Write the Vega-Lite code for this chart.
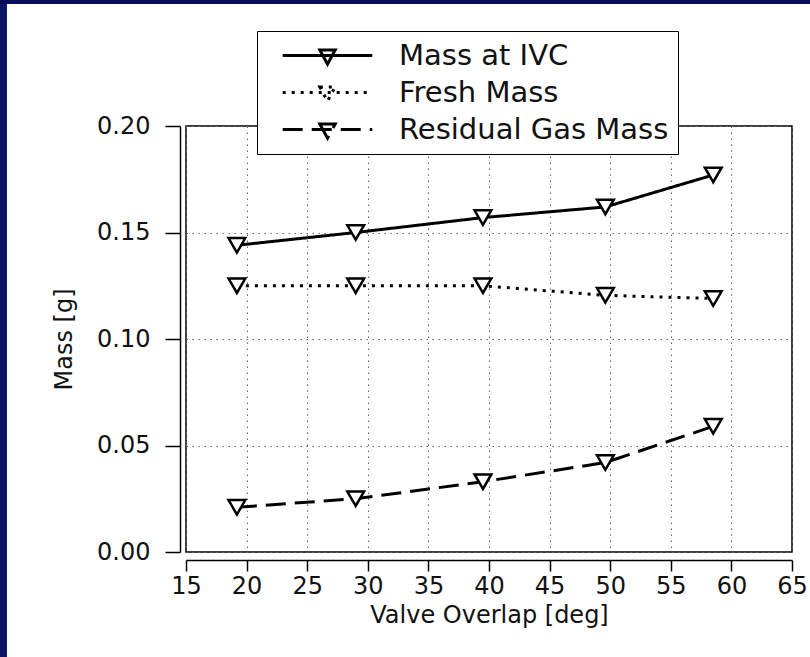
{
  "$schema": "https://vega.github.io/schema/vega-lite/v6.json",
  "width": 606,
  "height": 426,
  "autosize": "none",
  "padding": {"left": 186, "top": 126, "right": 18, "bottom": 105},
  "background": "white",
  "config": {
    "font": "DejaVu Sans",
    "view": {"stroke": "black", "strokeWidth": 1.5},
    "axis": {
      "domainColor": "black",
      "domainWidth": 1.5,
      "tickColor": "black",
      "tickWidth": 1.5,
      "labelFlush": false,
      "labelFont": "DejaVu Sans",
      "labelFontSize": 24,
      "labelColor": "#111",
      "titleFont": "DejaVu Sans",
      "titleFontSize": 24,
      "titleFontWeight": "normal",
      "titleColor": "#111",
      "gridColor": "#666",
      "gridDash": [1.5, 4.5],
      "gridWidth": 1
    }
  },
  "datasets": {
    "masses": [
      {"overlap": 19.2, "mass": 0.144, "series": "Mass at IVC"},
      {"overlap": 29.0, "mass": 0.150, "series": "Mass at IVC"},
      {"overlap": 39.5, "mass": 0.157, "series": "Mass at IVC"},
      {"overlap": 49.6, "mass": 0.162, "series": "Mass at IVC"},
      {"overlap": 58.5, "mass": 0.177, "series": "Mass at IVC"},
      {"overlap": 19.2, "mass": 0.125, "series": "Fresh Mass"},
      {"overlap": 29.0, "mass": 0.125, "series": "Fresh Mass"},
      {"overlap": 39.5, "mass": 0.125, "series": "Fresh Mass"},
      {"overlap": 49.6, "mass": 0.1205, "series": "Fresh Mass"},
      {"overlap": 58.5, "mass": 0.119, "series": "Fresh Mass"},
      {"overlap": 19.2, "mass": 0.021, "series": "Residual Gas Mass"},
      {"overlap": 29.0, "mass": 0.025, "series": "Residual Gas Mass"},
      {"overlap": 39.5, "mass": 0.033, "series": "Residual Gas Mass"},
      {"overlap": 49.6, "mass": 0.042, "series": "Residual Gas Mass"},
      {"overlap": 58.5, "mass": 0.059, "series": "Residual Gas Mass"}
    ],
    "edge": [{"name": "edge"}]
  },
  "layer": [
    {
      "data": {"name": "edge"},
      "mark": {"type": "rect", "fill": "#0b1565", "clip": false},
      "encoding": {
        "x": {"datum": -10},
        "x2": {"datum": 0.23},
        "y": {"datum": -0.1},
        "y2": {"datum": 0.35}
      }
    },
    {
      "data": {"name": "edge"},
      "mark": {"type": "rect", "fill": "#070c5a", "clip": false},
      "encoding": {
        "x": {"datum": -10},
        "x2": {"datum": 70},
        "y": {"datum": 0.2573},
        "y2": {"datum": 0.35}
      }
    },
    {
      "data": {"name": "masses"},
      "mark": {"type": "line", "color": "black", "strokeWidth": 3},
      "encoding": {
        "x": {
          "field": "overlap",
          "type": "quantitative",
          "scale": {"domain": [15, 65], "nice": false, "zero": false},
          "axis": {
            "title": "Valve Overlap [deg]",
            "values": [15, 20, 25, 30, 35, 40, 45, 50, 55, 60, 65],
            "offset": 8,
            "tickSize": 11,
            "labelPadding": 3,
            "titlePadding": 5,
            "grid": true
          }
        },
        "y": {
          "field": "mass",
          "type": "quantitative",
          "scale": {"domain": [0, 0.2], "nice": false},
          "axis": {
            "title": "Mass [g]",
            "values": [0, 0.05, 0.1, 0.15, 0.2],
            "format": ".2f",
            "offset": 6,
            "tickSize": 15,
            "labelPadding": 15,
            "titlePadding": 20,
            "grid": true
          }
        },
        "strokeDash": {
          "field": "series",
          "type": "nominal",
          "scale": {
            "domain": ["Mass at IVC", "Fresh Mass", "Residual Gas Mass"],
            "range": [[1, 0], [3, 6], [20, 9]]
          },
          "legend": {
            "title": null,
            "orient": "none",
            "legendX": 71,
            "legendY": -95,
            "fillColor": "white",
            "strokeColor": "black",
            "padding": 9,
            "symbolOffset": 46,
            "rowPadding": 6,
            "symbolType": "M-3.2,0H3.2M-0.55,-0.4H0.55L0,0.62Z",
            "symbolSize": 784,
            "symbolStrokeColor": "black",
            "symbolFillColor": "white",
            "symbolStrokeWidth": 3,
            "labelFont": "DejaVu Sans",
            "labelFontSize": 29,
            "labelColor": "#111",
            "labelOffset": 56,
            "labelLimit": 400
          }
        }
      }
    },
    {
      "data": {"name": "masses"},
      "mark": {
        "type": "point",
        "shape": "triangle-down",
        "filled": true,
        "fill": "white",
        "stroke": "black",
        "strokeWidth": 2.5,
        "size": 280,
        "opacity": 1
      },
      "encoding": {
        "x": {"field": "overlap", "type": "quantitative"},
        "y": {"field": "mass", "type": "quantitative"}
      }
    }
  ]
}
